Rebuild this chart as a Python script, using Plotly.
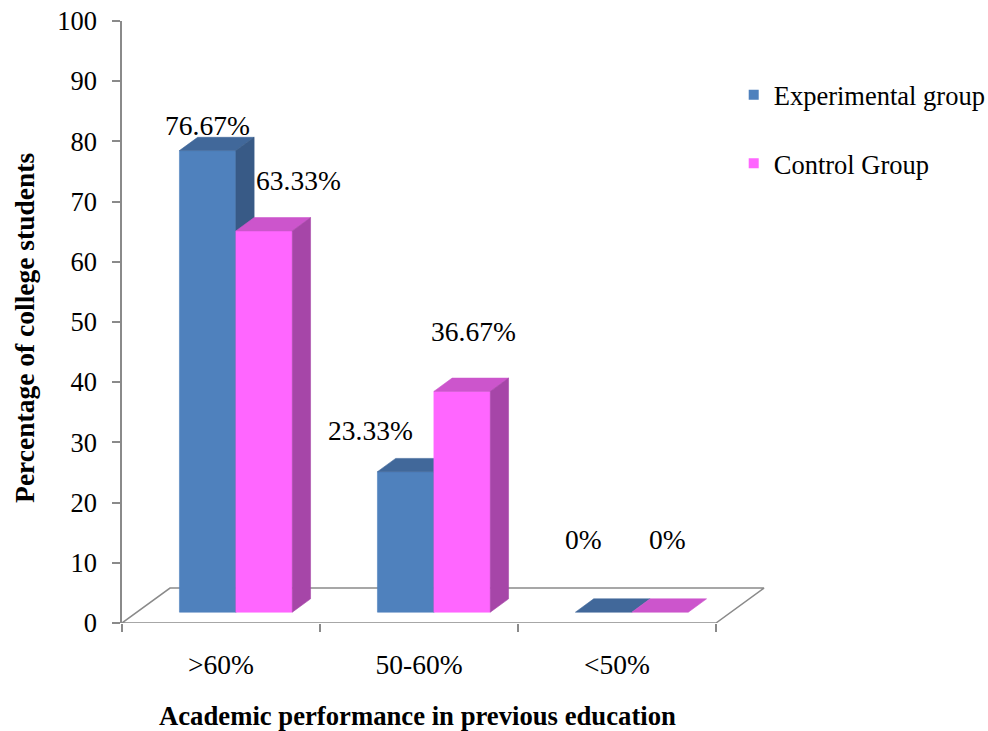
import plotly.graph_objects as go

# ---- data -------------------------------------------------------------
categories = [">60%", "50-60%", "<50%"]
series_names = ["Experimental group", "Control Group"]
experimental = [76.67, 23.33, 0]
control = [63.33, 36.67, 0]
y_ticks = list(range(0, 101, 10))

# ---- geometry / style -------------------------------------------------
SERIF = "Liberation Serif, Times New Roman, serif"
X_MAX = 3.2727            # x-axis extent (one unit per category)
BAR_W = 0.285             # bar width in category units
DEPTH = (0.2424, 5.81)    # floor depth vector (x units, y units)
FRONT, BACK = 0.31, 0.69  # bar front/back planes as fraction of floor depth
AXIS_GREY = "#8a8a8a"

face_colors = {
    "Experimental group": ("#4F81BD", "#41689A", "#385A86"),  # front, top, side
    "Control Group": ("#FF66FF", "#CC55CC", "#A646A8"),
}
# label placement (pixel offsets from the top-front centre of each bar)
label_shift = {
    "Experimental group": [(0, 25), (-35, 41), (-20, 73)],
    "Control Group": [(34, 50), (11, 60), (7, 73)],
}

fig = go.Figure()


def poly(xs, ys, color, line_color=None, width=0.6):
    fig.add_trace(go.Scatter(
        x=xs + [xs[0]], y=ys + [ys[0]], mode="lines", fill="toself",
        fillcolor=color, line=dict(color=line_color or color, width=width),
        hoverinfo="skip", showlegend=False,
    ))


# floor plane
n = len(categories)
dx, dy = DEPTH
poly([0, n, n + dx, dx], [0, 0, dy, dy], "white", AXIS_GREY, 1.5)

# 3-D bars
values = {"Experimental group": experimental, "Control Group": control}
ddx, ddy = (BACK - FRONT) * dx, (BACK - FRONT) * dy
annotations = []
for i in range(n):
    for j, name in enumerate(series_names):
        v = values[name][i]
        front, top, side = face_colors[name]
        x0 = i + 0.5 + (j - 1) * BAR_W + FRONT * dx
        x1 = x0 + BAR_W
        yb = FRONT * dy
        yt = yb + v
        if v > 0:
            poly([x0, x1, x1, x0], [yb, yb, yt, yt], front)
        poly([x0, x1, x1 + ddx, x0 + ddx], [yt, yt, yt + ddy, yt + ddy], top)
        if v > 0:
            poly([x1, x1 + ddx, x1 + ddx, x1], [yb, yb + ddy, yt + ddy, yt], side)
        sx, sy = label_shift[name][i]
        annotations.append(dict(
            x=(x0 + x1) / 2, y=yt, xref="x", yref="y",
            text=f"{v:g}%" if v == 0 else f"{v:.2f}%",
            showarrow=False, xshift=sx, yshift=sy,
            font=dict(family=SERIF, size=27.5, color="black"),
        ))

# legend entries
for name in series_names:
    fig.add_trace(go.Scatter(
        x=[None], y=[None], mode="markers", name=name, legendgroup=name,
        marker=dict(symbol="square", size=10, color=face_colors[name][0]),
    ))

annotations += [
    dict(text="<b>Percentage of college students</b>", xref="paper", yref="paper",
         x=-0.1505, y=0.491, xanchor="center", yanchor="middle",
         textangle=-90, showarrow=False,
         font=dict(family=SERIF, size=27.5, color="black")),
    dict(text="<b>Academic performance in previous education</b>", xref="paper",
         yref="paper", x=0.456, y=-0.1545, xanchor="center", yanchor="middle",
         showarrow=False, font=dict(family=SERIF, size=26.7, color="black")),
]

fig.update_layout(
    width=988, height=731,
    margin=dict(l=122, r=218, t=21, b=108, autoexpand=False),
    paper_bgcolor="white", plot_bgcolor="white",
    font=dict(family=SERIF, color="black"),
    xaxis=dict(
        range=[0, X_MAX], showgrid=False, zeroline=False, showline=False,
        tickvals=[i + 0.5 for i in range(n)], ticktext=categories, ticks="",
        ticklabelstandoff=22,
        tickfont=dict(family=SERIF, size=27.5, color="black"),
        minor=dict(tickvals=list(range(n + 1)), ticks="outside", ticklen=8,
                   tickcolor=AXIS_GREY, tickwidth=1.5),
    ),
    yaxis=dict(
        range=[0, 100], tickvals=y_ticks, showgrid=False, zeroline=False,
        showline=True, linecolor=AXIS_GREY, linewidth=1.5,
        ticks="outside", ticklen=8, tickcolor=AXIS_GREY, tickwidth=1.5,
        ticklabelstandoff=10,
        tickfont=dict(family=SERIF, size=26.5, color="black"),
    ),
    legend=dict(
        x=0.944, y=0.9167, xanchor="left", yanchor="top",
        font=dict(family=SERIF, size=26.5, color="black"),
        traceorder="grouped", tracegroupgap=31, bgcolor="rgba(0,0,0,0)",
    ),
    annotations=annotations,
)

fig.write_html("out.html")
